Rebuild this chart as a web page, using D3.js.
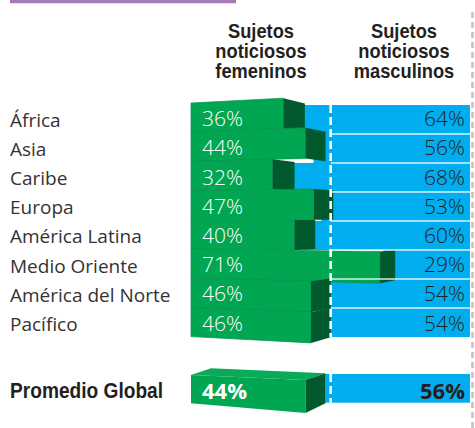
<!DOCTYPE html>
<html><head><meta charset="utf-8">
<script src="https://cdn.jsdelivr.net/npm/d3@7"></script>
<style>html,body{margin:0;padding:0;background:#fff;} svg{display:block;}</style>
</head><body>
<svg id="chart" width="475" height="428"></svg>
<script>
const regions = ["África","Asia","Caribe","Europa","América Latina","Medio Oriente","América del Norte","Pacífico"];
const female = [36,44,32,47,40,71,46,46];
const male = [64,56,68,53,60,29,54,54];
const globalLabel = "Promedio Global";
const globalFemale = 44;
const globalMale = 56;
const headerFemale = ["Sujetos","noticiosos","femeninos"];
const headerMale = ["Sujetos","noticiosos","masculinos"];
const dividerValue = 46;

const GREEN = "#00a651", GREEN_DARK = "#005a2d", GREEN_TOP = "#0aab58", BLUE = "#00aeef";
const TXT = "#231f20";
const boldFont = "'Liberation Sans',Arial,sans-serif";
const bodyFont = "'Open Sans','Liberation Sans',sans-serif";
const CONDENSE = 0.87;

const svg = d3.select("#chart");
const x = d3.scaleLinear().domain([0,100]).range([212,470]);
const y = d3.scaleBand().domain(regions).range([103, 103 + 29.2*8]);
const yBlue = d3.scaleBand().domain(regions).range([105, 337]);
const left = 191;
const cy = (y.range()[0] + y.range()[1]) / 2;
const persp = xx => 1 + (xx - left) * 0.00045;
const py = (yy, xx) => cy + (yy - cy) * persp(xx);
const depth = xe => 22 - Math.max(0, xe - 297) * 0.07;
const line = d3.line();

// top purple rule
svg.append("line").attr("x1",10).attr("x2",236).attr("y1",1.6).attr("y2",1.6)
  .attr("stroke","#a57ab5").attr("stroke-width",3.3);

// right gray dashed rule
svg.append("line").attr("x1",472.5).attr("x2",472.5).attr("y1",12).attr("y2",428)
  .attr("stroke","#c4c4c4").attr("stroke-width",2.6).attr("stroke-dasharray","6,4");

// headers (condensed bold)
function header(lines, cx){
  const g = svg.append("g").attr("transform",`translate(${cx},0) scale(${CONDENSE},1)`);
  const t = g.append("text").attr("text-anchor","middle").attr("font-family",boldFont)
    .attr("font-weight","bold").attr("font-size",21).attr("fill",TXT);
  lines.forEach((s,i)=> t.append("tspan").attr("x",0).attr("y",38.5 + i*20).text(s));
}
header(headerFemale, 261);
header(headerMale, 404);

// row labels
svg.selectAll("text.lab").data(regions).join("text").attr("class","lab")
  .attr("x",10).attr("y",d => y(d) + y.bandwidth()/2 + 9)
  .attr("font-family",bodyFont).attr("font-size",19).attr("fill","#333").text(d=>d);

// blue bars (male)
regions.forEach((r,i)=>{
  svg.append("rect").attr("x", x(100 - male[i]) - 12).attr("y", yBlue(r))
    .attr("width", x(100) - x(100 - male[i]) + 12).attr("height", yBlue.bandwidth())
    .attr("fill", BLUE);
});

// green 3D bars (female)
regions.forEach((r,i)=>{
  const xe = x(female[i]);
  const xf = xe - depth(xe);
  const yT = y(r), yB = y(r) + y.bandwidth();
  const fT = py(yT, xf), fB = py(yB, xf);
  const k = 0.955;
  svg.append("path").attr("d", line([[left,yT],[xf,fT],[xf,fB],[left,yB]]) + "Z")
    .attr("fill", GREEN).attr("stroke","#03924a").attr("stroke-width",0.7);
  svg.append("path").attr("d", line([[xf,fT],[xe, cy + (fT-cy)*k],[xe, cy + (fB-cy)*k],[xf,fB]]) + "Z")
    .attr("fill", GREEN_DARK);
});

// row separators on the blue side
const bounds = regions.slice(1).map(r => yBlue(r));
svg.selectAll("line.sep").data(bounds).join("line").attr("class","sep")
  .attr("x1", x(dividerValue)).attr("x2", x(100)).attr("y1", d=>d).attr("y2", d=>d)
  .attr("stroke","#ffffff").attr("stroke-opacity",0.85).attr("stroke-width",1.4);

// white dashed divider
svg.append("line").attr("x1",x(dividerValue)).attr("x2",x(dividerValue))
  .attr("y1",yBlue.range()[0]).attr("y2",yBlue.range()[1])
  .attr("stroke","#fff").attr("stroke-width",2.6).attr("stroke-dasharray","8,4");

// percentages
svg.selectAll("text.pf").data(regions).join("text").attr("class","pf")
  .attr("x", 202).attr("y", d => y(d) + y.bandwidth()/2 + 8.5)
  .attr("font-family",bodyFont).attr("font-weight",300).attr("font-size",21).attr("fill","#fff")
  .text((d,i)=> female[i] + "%");
svg.selectAll("text.pm").data(regions).join("text").attr("class","pm")
  .attr("x", 465).attr("text-anchor","end").attr("y", d => y(d) + y.bandwidth()/2 + 8.5)
  .attr("font-family",bodyFont).attr("font-weight",300).attr("font-size",21).attr("fill",TXT)
  .text((d,i)=> male[i] + "%");

// global average row
const gy = 375, gBlueTop = 374, gBlueH = 28.7;
svg.append("g").attr("transform",`translate(10,0) scale(${CONDENSE},1)`)
  .append("text").attr("x",0).attr("y",398.5).attr("font-family",boldFont).attr("font-weight","bold")
  .attr("font-size",22).attr("fill",TXT).text(globalLabel);
svg.append("rect").attr("x", x(100 - globalMale)).attr("y", gBlueTop)
  .attr("width", x(100) - x(100 - globalMale)).attr("height", gBlueH).attr("fill", BLUE);
svg.append("line").attr("x1",x(dividerValue)).attr("x2",x(dividerValue))
  .attr("y1",gBlueTop).attr("y2",gBlueTop+gBlueH)
  .attr("stroke","#fff").attr("stroke-width",2.6).attr("stroke-dasharray","8,4");
{
  const xe = x(globalFemale), d = 20, xf = xe - d;
  svg.append("path").attr("d", line([[left,gy],[left+20,gy-6.7],[xe,gy-1.7],[xf,gy+5]])+"Z").attr("fill",GREEN_TOP);
  svg.append("path").attr("d", line([[left,gy],[xf,gy+5],[xf,gy+38],[left,gy+28.3]])+"Z").attr("fill",GREEN);
  svg.append("path").attr("d", line([[xf,gy+5],[xe,gy-1.7],[xe,gy+28.3],[xf,gy+38]])+"Z").attr("fill",GREEN_DARK);
}
svg.append("text").attr("x",202).attr("y",399.3).attr("font-family",bodyFont).attr("font-weight",700)
  .attr("font-size",22).attr("fill","#fff").text(globalFemale + "%");
svg.append("text").attr("x",465).attr("y",399.3).attr("text-anchor","end").attr("font-family",bodyFont)
  .attr("font-weight",700).attr("font-size",22).attr("fill",TXT).text(globalMale + "%");
</script>
</body></html>
